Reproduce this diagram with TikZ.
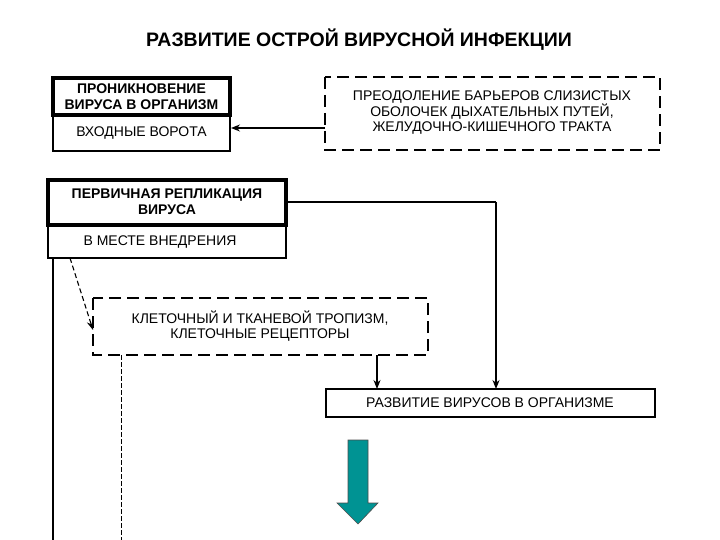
\documentclass[tikz,border=0pt]{standalone}
\usepackage{fontspec}
\setmainfont{Liberation Sans}
\usetikzlibrary{arrows.meta}
\begin{document}
\begin{tikzpicture}[x=1pt,y=-1pt,
  txt/.style={font=\fontsize{14}{15.5}\selectfont,align=center},
  btxt/.style={font=\bfseries\fontsize{14}{16}\selectfont,align=center},
  bx/.style={draw,line width=1.6pt},
  thick box/.style={draw,line width=4pt},
  dbox/.style={draw,line width=2pt,dash pattern=on 12pt off 6pt},
  arr/.style={-{Stealth[length=9pt,width=7pt]},line width=1.3pt}]
\useasboundingbox (0,0) rectangle (720,540);
\node[font=\bfseries\fontsize{19.5}{22}\selectfont] (title) at (359,40) {РАЗВИТИЕ ОСТРОЙ ВИРУСНОЙ ИНФЕКЦИИ};
% box 1
\draw[bx] (53,115) rectangle (230,151);
\draw[thick box] (53,78) rectangle (230,115);
\node[btxt] (b1) at (141.5,96.5) {ПРОНИКНОВЕНИЕ\\ВИРУСА В ОРГАНИЗМ};
\node[txt] (b1l) at (141.5,133) {ВХОДНЫЕ ВОРОТА};
\coordinate (b1r) at (231,128);
% box 2
\draw[dbox] (325,77) rectangle (660,150);
\node[txt] (b2) at (492,113) {ПРЕОДОЛЕНИЕ БАРЬЕРОВ СЛИЗИСТЫХ\\ОБОЛОЧЕК ДЫХАТЕЛЬНЫХ ПУТЕЙ,\\ЖЕЛУДОЧНО-КИШЕЧНОГО ТРАКТА};
\coordinate (b2l) at (325,128);
\draw[arr] (b2l) -- (b1r);
% box 3
\draw[bx] (48,225) rectangle (286,258);
\draw[thick box] (48,180) rectangle (286,225);
\node[btxt] (b3) at (167,202) {ПЕРВИЧНАЯ РЕПЛИКАЦИЯ\\ВИРУСА};
\node[txt] (b3l) at (160,242) {В МЕСТЕ ВНЕДРЕНИЯ};
% dashed box
\draw[dbox] (93,298) rectangle (428,355);
\node[txt] (b5) at (260,326) {КЛЕТОЧНЫЙ И ТКАНЕВОЙ ТРОПИЗМ,\\КЛЕТОЧНЫЕ РЕЦЕПТОРЫ};
% box 4
\draw[draw,line width=2pt] (326,389) rectangle (655,417);
\node[txt] (b4) at (490,403) {РАЗВИТИЕ ВИРУСОВ В ОРГАНИЗМЕ};
% connectors
\coordinate (r3) at (286,202);
\coordinate (c1) at (496,202);
\coordinate (t4) at (496,389);
\draw[line width=1.1pt] (r3) -- (c1);
\draw[arr] (c1) -- (t4);
\coordinate (db) at (377,355);
\coordinate (t4b) at (377,389);
\draw[arr] (db) -- (t4b);
\coordinate (s1) at (70,258);
\coordinate (e1) at (93,330);
\draw[arr,line width=1.1pt,dash pattern=on 5pt off 3pt] (s1) -- (e1);
\coordinate (l1) at (53,258);
\coordinate (l2) at (53,540);
\draw[line width=1.1pt] (l1) -- (l2);
\coordinate (d1) at (121,355);
\coordinate (d2) at (121,540);
\draw[line width=0.9pt,dash pattern=on 5pt off 2pt] (d1) -- (d2);
% teal arrow
\draw[fill=teal!85!cyan,draw=black!70,line width=0.6pt]
  (348,440) -- (368,440) -- (368,503) -- (378,503) -- (358,524) -- (337,503) -- (348,503) -- cycle;
\end{tikzpicture}
\end{document}
